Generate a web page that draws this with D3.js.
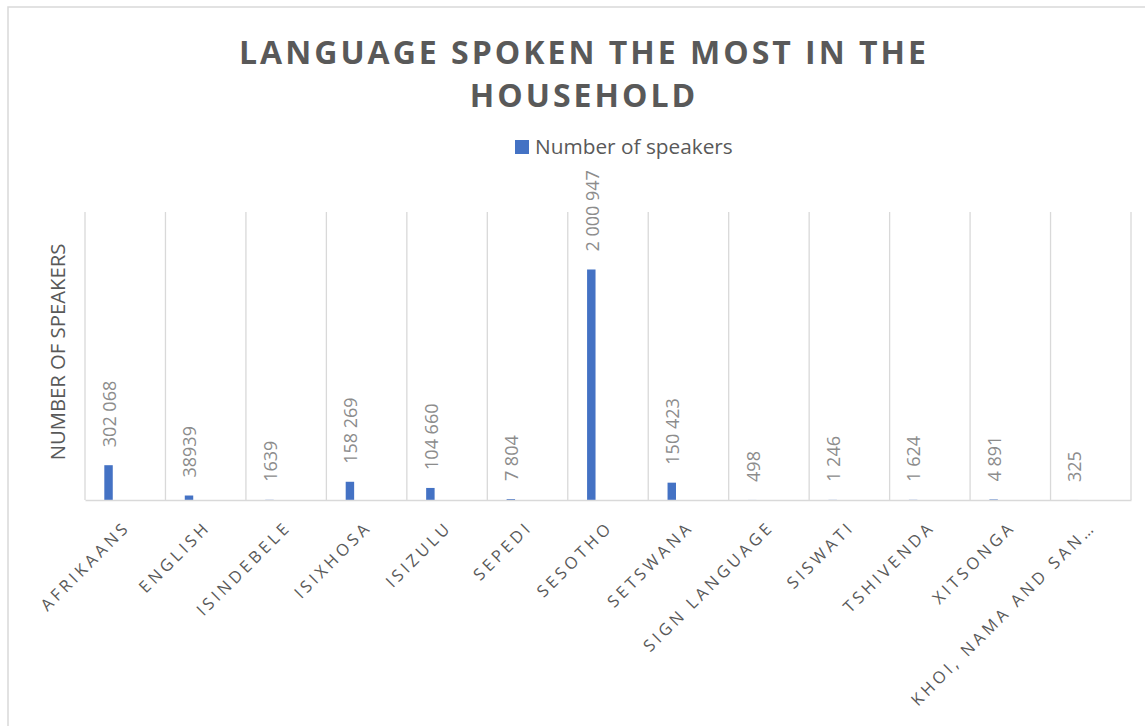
<!DOCTYPE html>
<html>
<head>
<meta charset="utf-8">
<script src="https://cdn.jsdelivr.net/npm/d3@7"></script>
<style>
  html, body { margin: 0; padding: 0; background: #fff; }
  svg { display: block; font-family: "Open Sans", "Noto Sans", sans-serif; }
</style>
</head>
<body>
<svg id="chart" width="1145" height="726"></svg>
<script>
// Household language data
const categories = [
  "AFRIKAANS", "ENGLISH", "ISINDEBELE", "ISIXHOSA", "ISIZULU", "SEPEDI",
  "SESOTHO", "SETSWANA", "SIGN LANGUAGE", "SISWATI", "TSHIVENDA",
  "XITSONGA", "KHOI, NAMA AND SAN\u2026"
];
const speakers = [302068, 38939, 1639, 158269, 104660, 7804, 2000947, 150423, 498, 1246, 1624, 4891, 325];
const speakerLabels = ["302 068", "38939", "1639", "158 269", "104 660", "7 804", "2 000 947", "150 423", "498", "1 246", "1 624", "4 891", "325"];
const seriesName = "Number of speakers";
const yMax = 2500000;

const svg = d3.select("#chart");
const W = 1145, H = 726;
const plot = { left: 85, right: 1131, top: 212, bottom: 500 };

const grey = "#d9d9d9";
const textDark = "#595959";
const labelGrey = "#8c8c8c";
const barColor = "#4472C4";

// chart frame
svg.append("rect")
  .attr("x", 8).attr("y", 7)
  .attr("width", W + 20).attr("height", H + 20)
  .attr("fill", "#fff").attr("stroke", grey).attr("stroke-width", 1.5);

const x = d3.scaleBand().domain(categories).range([plot.left, plot.right]).padding(0);
const y = d3.scaleLinear().domain([0, yMax]).range([plot.bottom, plot.top]);
const bw = x.bandwidth();

// vertical gridlines at category boundaries
const edges = d3.range(categories.length + 1).map(i => plot.left + i * bw);
svg.append("g").selectAll("line").data(edges).join("line")
  .attr("x1", d => d).attr("x2", d => d)
  .attr("y1", plot.top).attr("y2", plot.bottom)
  .attr("stroke", grey).attr("stroke-width", 1.3);

// bars
const data = categories.map((c, i) => ({ c, v: speakers[i], label: speakerLabels[i] }));
const barOffset = bw * 0.24, barW = bw * 0.105;
svg.append("g").selectAll("rect").data(data).join("rect")
  .attr("x", d => x(d.c) + barOffset)
  .attr("width", barW)
  .attr("y", d => y(d.v))
  .attr("height", d => y(0) - y(d.v))
  .attr("fill", barColor);

// value labels, rotated above bars
svg.append("g").selectAll("text").data(data).join("text")
  .attr("transform", d => `translate(${x(d.c) + barOffset + barW / 2 + 1},${y(d.v) - 18}) rotate(-90)`)
  .attr("dy", "0.35em")
  .attr("text-anchor", "start")
  .attr("font-size", 18)
  .attr("fill", labelGrey)
  .text(d => d.label);

// category axis
const xAxis = svg.append("g")
  .attr("transform", `translate(0,${plot.bottom})`)
  .call(d3.axisBottom(x).tickSize(0).tickPadding(0));
xAxis.select(".domain").attr("stroke", grey).attr("stroke-width", 1.5);
xAxis.selectAll("text")
  .attr("y", 0).attr("x", 0)
  .attr("dy", "0.35em")
  .attr("transform", "translate(2,24) rotate(-45)")
  .attr("text-anchor", "end")
  .attr("font-family", "\"Open Sans\", sans-serif")
  .attr("font-size", 16.5)
  .attr("letter-spacing", "3.6px")
  .attr("fill", textDark);

// y axis title
svg.append("text")
  .attr("transform", `translate(58,352) rotate(-90)`)
  .attr("dy", "0.35em")
  .attr("text-anchor", "middle")
  .attr("font-size", 20.3)
  .attr("fill", textDark)
  .text("NUMBER OF SPEAKERS");

// title
const title = svg.append("text")
  .attr("text-anchor", "middle")
  .attr("font-size", 32)
  .attr("font-weight", "bold")
  .attr("letter-spacing", "3px")
  .attr("fill", textDark);
title.append("tspan").attr("x", 584).attr("y", 64).text("LANGUAGE SPOKEN THE MOST IN THE");
title.append("tspan").attr("x", 584).attr("y", 107).text("HOUSEHOLD");

// legend
const legend = svg.append("g").attr("transform", "translate(515,140)");
legend.append("rect").attr("width", 14).attr("height", 14).attr("fill", barColor);
legend.append("text")
  .attr("x", 20).attr("y", 14)
  .attr("font-size", 20.8)
  .attr("fill", textDark)
  .text(seriesName);
</script>
</body>
</html>
